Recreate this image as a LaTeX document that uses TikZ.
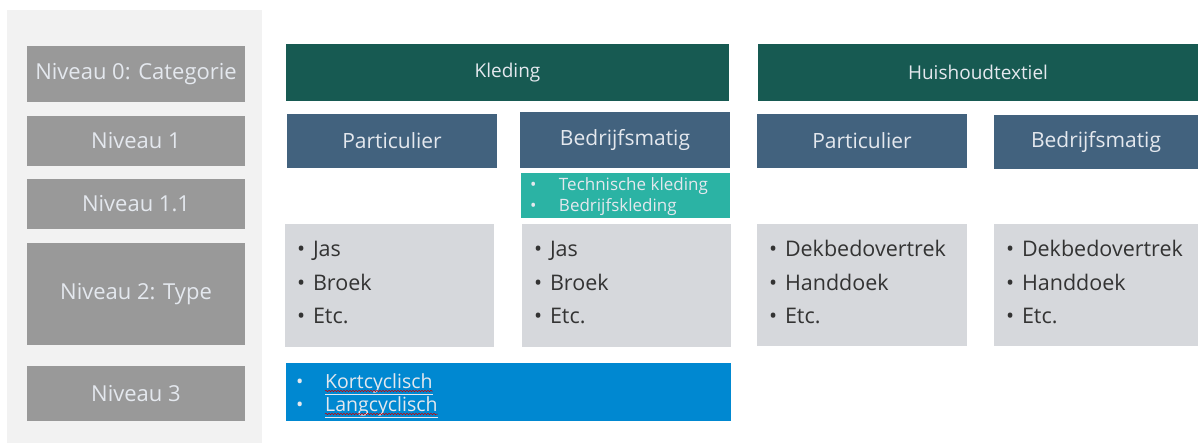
\documentclass[tikz,border=0pt]{standalone}
\usepackage{fontspec}
\setmainfont{Open Sans}
\usetikzlibrary{decorations.pathmorphing}
\definecolor{panelgray}{HTML}{F2F2F2}
\definecolor{lvlgray}{HTML}{999999}
\definecolor{lighttext}{HTML}{E4E8EE}
\definecolor{catgreen}{HTML}{175A52}
\definecolor{slate}{HTML}{42627E}
\definecolor{tealbox}{HTML}{2BB3A4}
\definecolor{itemgray}{HTML}{D6D8DC}
\definecolor{darktext}{HTML}{333333}
\definecolor{bluebox}{HTML}{0088D1}
\newcommand{\bul}[2]{\makebox[#1][l]{\textbullet}#2}
\tikzset{
	box/.style 2 args={rectangle,inner sep=0pt,minimum width=#1,minimum height=#2},
	lvl/.style={fill=lvlgray,text=lighttext,font=\fontsize{22}{26}\selectfont},
	cat/.style={fill=catgreen,text=lighttext,font=\fontsize{19}{22}\selectfont},
	sub/.style={fill=slate,text=lighttext,font=\fontsize{21}{25}\selectfont},
	items/.style={anchor=west,inner sep=0pt,align=left,text=darktext,font=\fontsize{21.5}{33.5}\selectfont},
	spell/.style={red!80!black,line width=0.5pt,decorate,decoration={snake,amplitude=0.7pt,segment length=3pt}}
}
\begin{document}
\begin{tikzpicture}[x=1pt,y=-1pt]
	\useasboundingbox (0,0) rectangle (1198,443);
	\node [box={255pt}{433pt},fill=panelgray,anchor=north west] (panel) at (7,10) {};

	% niveaus
	\node [box={218pt}{56pt},lvl] (n0) at (136,74) {Niveau 0: Categorie};
	\node [box={218pt}{50pt},lvl] (n1) at (136,141) {Niveau 1};
	\node [box={218pt}{50pt},lvl] (n11) at (136,204) {Niveau 1.1};
	\node [box={218pt}{102pt},lvl] (n2) at (136,294) {Niveau 2: Type};
	\node [box={218pt}{55pt},lvl] (n3) at (136,393.5) {Niveau 3};

	% categorieen
	\node [box={443pt}{57pt},cat] (kled) at (507.5,72.5) {Kleding};
	\node [box={440pt}{57pt},cat] (huis) at (978,72.5) {Huishoudtextiel};

	\node [box={210pt}{54pt},sub] (kpart) at (392,141) {Particulier};
	\node [box={210pt}{56pt},sub] (kbedr) at (625,140) {Bedrijfsmatig};
	\node [box={210pt}{54pt},sub] (hpart) at (862,141) {Particulier};
	\node [box={204pt}{54pt},sub] (hbedr) at (1096,142) {Bedrijfsmatig};

	\node [box={209pt}{45pt},fill=tealbox] (teal) at (625.5,195.5) {};
	\node [anchor=west,inner sep=0pt,align=left,text=lighttext,font=\fontsize{17}{21}\selectfont] (tlist) at ([xshift=9pt,yshift=-1pt]teal.west)
		{\bul{29pt}{Technische kleding}\\ \bul{29pt}{Bedrijfskleding}};

	% types
	\node [box={209pt}{123pt},fill=itemgray] (g1) at (389.5,285.5) {};
	\node [box={209pt}{123pt},fill=itemgray] (g2) at (626.5,285.5) {};
	\node [box={210pt}{122pt},fill=itemgray] (g3) at (862,285) {};
	\node [box={204pt}{122pt},fill=itemgray] (g4) at (1096,285) {};
	\node [items] (l1) at ([xshift=12pt,yshift=3pt]g1.west) {\bul{16pt}{Jas}\\ \bul{16pt}{Broek}\\ \bul{16pt}{Etc.}};
	\node [items] (l2) at ([xshift=12pt,yshift=3pt]g2.west) {\bul{16pt}{Jas}\\ \bul{16pt}{Broek}\\ \bul{16pt}{Etc.}};
	\node [items] (l3) at ([xshift=12pt,yshift=3pt]g3.west) {\bul{16pt}{Dekbedovertrek}\\ \bul{16pt}{Handdoek}\\ \bul{16pt}{Etc.}};
	\node [items] (l4) at ([xshift=12pt,yshift=3pt]g4.west) {\bul{16pt}{Dekbedovertrek}\\ \bul{16pt}{Handdoek}\\ \bul{16pt}{Etc.}};

	% niveau 3
	\node [box={445pt}{58pt},fill=bluebox] (blue) at (508.5,392) {};
	\node [anchor=base west,inner sep=0pt,text=lighttext,font=\fontsize{19.5}{23}\selectfont] (kort) at (296,388) {\bul{29pt}{\underline{Kortcyclisch}}};
	\node [anchor=base west,inner sep=0pt,text=lighttext,font=\fontsize{19.5}{23}\selectfont] (lang) at (296,411) {\bul{29pt}{\underline{Langcyclisch}}};
	\draw [spell] ([xshift=29pt,yshift=-3pt]kort.base west) -- ([yshift=-3pt]kort.base east);
	\draw [spell] ([xshift=29pt,yshift=-3pt]lang.base west) -- ([yshift=-3pt]lang.base east);
\end{tikzpicture}
\end{document}
